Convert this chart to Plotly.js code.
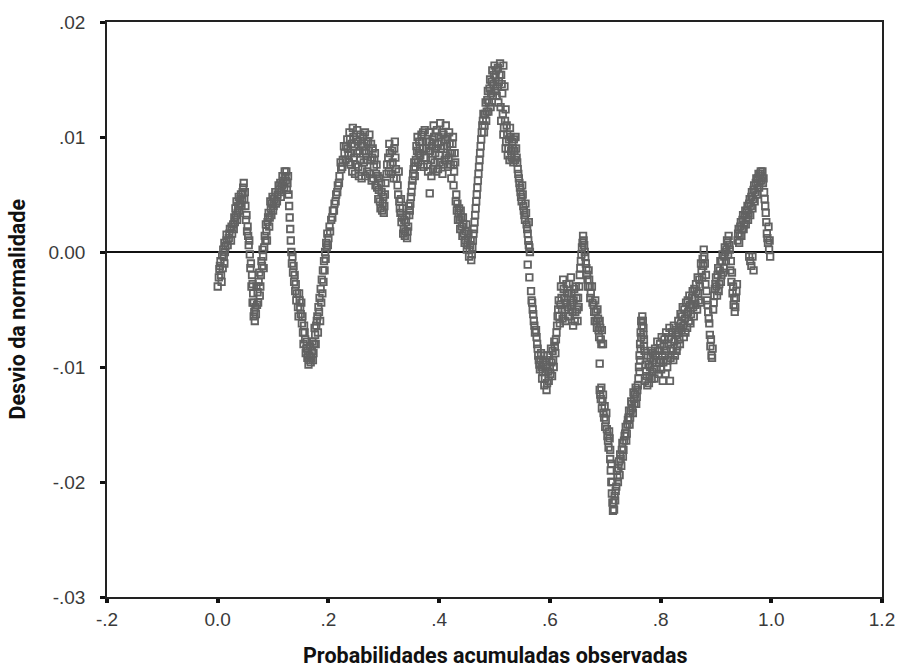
<!DOCTYPE html>
<html><head><meta charset="utf-8">
<script src="https://cdn.plot.ly/plotly-3.0.1.min.js"></script>
<style>html,body{margin:0;padding:0;background:#fff}#chart{width:897px;height:667px}</style>
</head><body><div id="chart"></div>
<script>
// [observed cumulative probability, deviation from normality]
const segA = [[0.000,-.0030],[0.002,-.0022],[0.003,-.0015],[0.005,-.0008],[0.006,-.0020],[0.008,-.0003],[0.010,.0002],[0.012,-.0010],[0.014,.0005],[0.016,.0010],[0.012,.0008],[0.016,.0015],[0.020,.0012],[0.022,.0020],[0.026,.0016],[0.028,.0024],[0.030,.0030],[0.032,.0038],[0.034,.0044],[0.036,.0034],[0.038,.0048],[0.040,.0042],[0.042,.0050],[0.044,.0046],[0.046,.0056],[0.047,.0060],[0.049,.0052],[0.050,.0040],[0.052,.0032],[0.054,.0022],[0.055,.0014],[0.056,.0006],[0.058,-.0002],[0.060,-.0010],[0.062,-.0020],[0.063,-.0028],[0.064,-.0036],[0.065,-.0044],[0.066,-.0052],[0.067,-.0060],[0.069,-.0054],[0.071,-.0046],[0.072,-.0035],[0.074,-.0026],[0.076,-.0038],[0.078,-.0020],[0.080,-.0012],[0.082,-.0004],[0.084,.0004],[0.086,.0010],[0.088,.0018],[0.090,.0026],[0.092,.0034],[0.094,.0030],[0.096,.0038],[0.098,.0042],[0.100,.0036],[0.102,.0046],[0.105,.0042],[0.108,.0050],[0.111,.0054],[0.114,.0048],[0.116,.0058],[0.118,.0062],[0.120,.0056],[0.122,.0066],[0.124,.0070],[0.126,.0060],[0.128,.0050],[0.129,.0040],[0.130,.0030],[0.131,.0020],[0.132,.0010]];
const fillA = [[0.004,-.0012],[0.007,-.0026],[0.009,-.0014],[0.011,-.0004],[0.013,.0000],[0.018,.0006],[0.021,.0016],[0.024,.0010],[0.025,.0022],[0.029,.0020],[0.031,.0026],[0.033,.0032],[0.035,.0028],[0.037,.0040],[0.039,.0036],[0.041,.0046],[0.043,.0040],[0.045,.0052],[0.048,.0046],[0.051,.0028],[0.053,.0018],[0.057,.0010],[0.059,-.0014],[0.061,-.0030],[0.063,-.0044],[0.065,-.0056],[0.068,-.0048],[0.070,-.0030],[0.073,-.0044],[0.075,-.0018],[0.077,-.0030],[0.079,-.0008],[0.081,.0002],[0.083,-.0014],[0.085,.0014],[0.087,.0024],[0.089,.0010],[0.091,.0030],[0.093,.0022],[0.095,.0044],[0.097,.0032],[0.099,.0048],[0.101,.0040],[0.104,.0052],[0.107,.0044],[0.110,.0058],[0.113,.0060],[0.115,.0052],[0.117,.0066],[0.119,.0060],[0.121,.0070],[0.123,.0062],[0.125,.0054],[0.127,.0066]];
const segB = [[0.133,.0000],[0.134,-.0010],[0.136,-.0018],[0.138,-.0026],[0.140,-.0034],[0.142,-.0042],[0.145,-.0048],[0.148,-.0042],[0.150,-.0054],[0.152,-.0062],[0.154,-.0070],[0.156,-.0064],[0.158,-.0076],[0.160,-.0084],[0.162,-.0092],[0.164,-.0098],[0.166,-.0090],[0.168,-.0096],[0.170,-.0086],[0.172,-.0094],[0.174,-.0080],[0.176,-.0072],[0.178,-.0064],[0.180,-.0056],[0.182,-.0048],[0.184,-.0040],[0.186,-.0032],[0.188,-.0024],[0.190,-.0016],[0.192,-.0008],[0.194,.0000],[0.196,.0008],[0.198,.0016],[0.200,.0012],[0.202,.0022],[0.205,.0028],[0.208,.0036],[0.211,.0042],[0.214,.0050],[0.217,.0058],[0.220,.0066],[0.223,.0072],[0.226,.0080],[0.229,.0086],[0.232,.0092]];
const fillB = [[0.135,-.0004],[0.137,-.0012],[0.139,-.0020],[0.141,-.0028],[0.143,-.0036],[0.146,-.0056],[0.147,-.0036],[0.149,-.0048],[0.151,-.0044],[0.153,-.0056],[0.155,-.0080],[0.157,-.0070],[0.159,-.0088],[0.161,-.0078],[0.163,-.0086],[0.165,-.0094],[0.167,-.0082],[0.169,-.0092],[0.171,-.0078],[0.173,-.0088],[0.175,-.0066],[0.177,-.0080],[0.179,-.0060],[0.181,-.0070],[0.183,-.0052],[0.185,-.0060],[0.187,-.0044],[0.189,-.0036],[0.191,-.0026],[0.193,-.0016],[0.195,-.0006],[0.197,.0004],[0.199,.0006],[0.203,.0018],[0.207,.0030],[0.210,.0036],[0.213,.0044],[0.216,.0052],[0.219,.0060],[0.222,.0078],[0.225,.0074],[0.228,.0092],[0.231,.0080]];
const segC = [[0.234,.0098],[0.236,.0084],[0.238,.0104],[0.240,.0076],[0.242,.0094],[0.244,.0108],[0.246,.0082],[0.248,.0068],[0.250,.0098],[0.252,.0106],[0.254,.0074],[0.256,.0088],[0.258,.0102],[0.260,.0064],[0.262,.0092],[0.264,.0078],[0.266,.0104],[0.268,.0086],[0.270,.0070],[0.272,.0096],[0.274,.0102],[0.276,.0080],[0.278,.0062],[0.280,.0090],[0.282,.0074],[0.284,.0086],[0.286,.0068],[0.288,.0056],[0.290,.0046],[0.292,.0064],[0.294,.0038],[0.296,.0052],[0.298,.0042],[0.300,.0034],[0.302,.0050],[0.305,.0068],[0.308,.0082],[0.310,.0094],[0.312,.0076],[0.315,.0088],[0.318,.0064],[0.320,.0096],[0.322,.0072],[0.325,.0058],[0.328,.0044],[0.330,.0034],[0.332,.0026],[0.334,.0038],[0.336,.0020],[0.338,.0014],[0.340,.0026],[0.342,.0012],[0.344,.0022],[0.346,.0032],[0.348,.0042],[0.350,.0052],[0.352,.0062],[0.354,.0072],[0.356,.0066],[0.358,.0080],[0.360,.0088],[0.362,.0078],[0.364,.0096],[0.366,.0084],[0.368,.0102],[0.370,.0090],[0.372,.0074],[0.374,.0106]];
const fillC = [[0.235,.0090],[0.237,.0078],[0.239,.0098],[0.241,.0086],[0.243,.0070],[0.245,.0100],[0.247,.0092],[0.249,.0076],[0.251,.0086],[0.253,.0096],[0.255,.0066],[0.257,.0080],[0.259,.0094],[0.261,.0072],[0.263,.0100],[0.265,.0088],[0.267,.0066],[0.269,.0096],[0.271,.0080],[0.273,.0088],[0.275,.0068],[0.277,.0094],[0.279,.0082],[0.281,.0064],[0.283,.0080],[0.285,.0058],[0.287,.0076],[0.289,.0066],[0.291,.0054],[0.293,.0044],[0.295,.0060],[0.297,.0036],[0.299,.0048],[0.301,.0040],[0.303,.0060],[0.306,.0076],[0.309,.0070],[0.311,.0086],[0.313,.0068],[0.316,.0078],[0.319,.0090],[0.321,.0082],[0.323,.0064],[0.326,.0050],[0.327,.0070],[0.329,.0038],[0.331,.0046],[0.333,.0030],[0.335,.0016],[0.337,.0028],[0.339,.0018],[0.341,.0032],[0.343,.0018],[0.345,.0040],[0.347,.0036],[0.349,.0048],[0.351,.0058],[0.353,.0068],[0.355,.0078],[0.357,.0074],[0.359,.0092],[0.361,.0100],[0.363,.0086],[0.365,.0090],[0.367,.0076],[0.369,.0096],[0.371,.0104],[0.373,.0082]];
const segD = [[0.376,.0082],[0.378,.0096],[0.380,.0070],[0.382,.0104],[0.384,.0088],[0.386,.0066],[0.388,.0098],[0.390,.0110],[0.392,.0078],[0.394,.0090],[0.396,.0106],[0.398,.0072],[0.400,.0084],[0.402,.0112],[0.404,.0096],[0.406,.0068],[0.408,.0102],[0.410,.0080],[0.412,.0110],[0.414,.0092],[0.416,.0074],[0.418,.0104],[0.420,.0086],[0.422,.0064],[0.424,.0094],[0.426,.0076],[0.428,.0086],[0.383,.0051],[0.426,.0058],[0.430,.0044],[0.432,.0036],[0.434,.0028],[0.436,.0038],[0.438,.0020],[0.440,.0030],[0.442,.0014],[0.444,.0024],[0.446,.0008],[0.448,.0018],[0.450,.0002],[0.452,.0012],[0.454,-.0004],[0.456,.0006],[0.458,-.0007],[0.460,.0004],[0.462,.0016],[0.464,.0026],[0.466,.0038],[0.468,.0050],[0.470,.0062],[0.472,.0074],[0.474,.0086],[0.476,.0098],[0.478,.0110],[0.480,.0120],[0.482,.0110],[0.484,.0130],[0.486,.0122],[0.488,.0140],[0.490,.0130],[0.492,.0150],[0.494,.0138],[0.496,.0158],[0.498,.0146],[0.500,.0162],[0.502,.0152],[0.504,.0136],[0.506,.0160],[0.508,.0148],[0.510,.0164],[0.512,.0154],[0.514,.0138],[0.516,.0162],[0.518,.0144],[0.520,.0124],[0.512,.0114],[0.516,.0102],[0.520,.0090],[0.522,.0110],[0.524,.0084],[0.526,.0098],[0.528,.0108],[0.530,.0088],[0.532,.0096],[0.534,.0078],[0.536,.0088],[0.538,.0100],[0.540,.0082]];
const fillD = [[0.377,.0090],[0.379,.0076],[0.381,.0088],[0.383,.0096],[0.385,.0080],[0.387,.0092],[0.389,.0072],[0.391,.0100],[0.393,.0086],[0.395,.0070],[0.397,.0094],[0.399,.0100],[0.401,.0078],[0.403,.0090],[0.405,.0104],[0.407,.0076],[0.409,.0092],[0.411,.0098],[0.413,.0084],[0.415,.0100],[0.417,.0082],[0.419,.0094],[0.421,.0076],[0.423,.0086],[0.425,.0100],[0.427,.0070],[0.429,.0078],[0.431,.0050],[0.433,.0042],[0.435,.0034],[0.437,.0028],[0.439,.0036],[0.441,.0022],[0.443,.0030],[0.445,.0016],[0.447,.0010],[0.449,.0024],[0.451,.0006],[0.453,.0016],[0.455,.0002],[0.457,.0010],[0.459,-.0002],[0.461,.0010],[0.463,.0020],[0.465,.0032],[0.467,.0044],[0.469,.0056],[0.471,.0068],[0.473,.0080],[0.475,.0092],[0.477,.0104],[0.479,.0114],[0.481,.0104],[0.483,.0120],[0.485,.0114],[0.487,.0132],[0.489,.0122],[0.491,.0142],[0.493,.0126],[0.495,.0148],[0.497,.0136],[0.499,.0154],[0.501,.0140],[0.503,.0158],[0.505,.0144],[0.507,.0130],[0.509,.0154],[0.511,.0126],[0.513,.0146],[0.515,.0120],[0.517,.0108],[0.519,.0114],[0.521,.0096],[0.523,.0102],[0.525,.0090],[0.527,.0080],[0.529,.0100],[0.531,.0082],[0.533,.0090],[0.535,.0098],[0.537,.0080],[0.539,.0090],[0.541,.0078]];
const segE = [[0.542,.0072],[0.544,.0064],[0.546,.0056],[0.548,.0048],[0.550,.0058],[0.552,.0040],[0.554,.0032],[0.556,.0042],[0.558,.0024],[0.560,.0016],[0.562,.0006],[0.564,.0000],[0.562,.0026],[0.560,-.0011],[0.563,-.0022],[0.566,-.0034],[0.568,-.0044],[0.570,-.0054],[0.572,-.0064],[0.576,-.0074],[0.578,-.0084],[0.580,-.0094],[0.582,-.0102],[0.584,-.0088],[0.586,-.0110],[0.588,-.0096],[0.590,-.0116],[0.592,-.0104],[0.594,-.0120],[0.596,-.0090],[0.598,-.0112],[0.600,-.0100],[0.602,-.0084],[0.604,-.0108],[0.606,-.0094],[0.608,-.0078],[0.610,-.0088],[0.612,-.0070],[0.614,-.0056],[0.616,-.0042],[0.618,-.0062],[0.620,-.0030],[0.622,-.0050],[0.624,-.0024],[0.626,-.0040],[0.628,-.0060],[0.630,-.0028],[0.632,-.0048],[0.634,-.0036],[0.636,-.0056],[0.638,-.0022],[0.640,-.0044],[0.642,-.0064],[0.644,-.0032],[0.646,-.0052],[0.648,-.0040],[0.650,-.0060],[0.652,-.0048],[0.654,-.0020],[0.656,-.0008],[0.658,.0004],[0.660,.0014],[0.662,.0006],[0.664,-.0004],[0.666,-.0014],[0.668,-.0024],[0.670,-.0016],[0.672,-.0030],[0.674,-.0036],[0.677,-.0044],[0.680,-.0052],[0.682,-.0042],[0.684,-.0060],[0.686,-.0050],[0.688,-.0068],[0.690,-.0060],[0.692,-.0076],[0.694,-.0068],[0.696,-.0080],[0.690,-.0097]];
const fillE = [[0.543,.0068],[0.545,.0060],[0.547,.0052],[0.549,.0044],[0.551,.0050],[0.553,.0036],[0.555,.0028],[0.557,.0034],[0.559,.0020],[0.561,.0010],[0.563,.0004],[0.567,-.0042],[0.569,-.0050],[0.571,-.0060],[0.573,-.0070],[0.575,-.0068],[0.577,-.0080],[0.579,-.0090],[0.581,-.0098],[0.583,-.0094],[0.585,-.0100],[0.587,-.0104],[0.589,-.0090],[0.591,-.0110],[0.593,-.0098],[0.595,-.0114],[0.597,-.0104],[0.599,-.0094],[0.601,-.0106],[0.603,-.0096],[0.605,-.0086],[0.607,-.0100],[0.609,-.0082],[0.611,-.0076],[0.613,-.0064],[0.615,-.0050],[0.617,-.0056],[0.619,-.0046],[0.621,-.0040],[0.623,-.0058],[0.625,-.0032],[0.627,-.0050],[0.629,-.0044],[0.631,-.0036],[0.633,-.0056],[0.635,-.0028],[0.637,-.0046],[0.639,-.0036],[0.641,-.0052],[0.643,-.0042],[0.645,-.0060],[0.647,-.0030],[0.649,-.0050],[0.651,-.0040],[0.653,-.0030],[0.655,-.0014],[0.657,-.0002],[0.659,.0008],[0.661,.0010],[0.663,.0000],[0.665,-.0010],[0.667,-.0020],[0.669,-.0030],[0.671,-.0024],[0.673,-.0040],[0.676,-.0030],[0.679,-.0046],[0.681,-.0060],[0.683,-.0052],[0.685,-.0066],[0.687,-.0058],[0.689,-.0074],[0.691,-.0066],[0.693,-.0080]];
const segF = [[0.690,-.0120],[0.692,-.0128],[0.694,-.0136],[0.696,-.0124],[0.698,-.0144],[0.700,-.0152],[0.702,-.0140],[0.704,-.0160],[0.706,-.0170],[0.708,-.0162],[0.709,-.0180],[0.710,-.0190],[0.711,-.0200],[0.712,-.0210],[0.713,-.0218],[0.714,-.0225],[0.716,-.0224],[0.718,-.0216],[0.720,-.0204],[0.722,-.0196],[0.724,-.0188],[0.726,-.0194],[0.728,-.0180],[0.730,-.0172],[0.732,-.0178],[0.734,-.0164],[0.736,-.0158],[0.738,-.0164],[0.740,-.0150],[0.742,-.0144],[0.744,-.0150],[0.746,-.0138],[0.748,-.0132],[0.750,-.0140],[0.752,-.0128],[0.754,-.0124],[0.756,-.0132],[0.758,-.0120],[0.760,-.0110],[0.761,-.0100],[0.762,-.0090],[0.763,-.0080],[0.764,-.0070],[0.765,-.0060],[0.767,-.0056],[0.769,-.0066],[0.770,-.0076],[0.771,-.0086]];
const fillF = [[0.691,-.0124],[0.693,-.0118],[0.695,-.0130],[0.697,-.0140],[0.699,-.0134],[0.701,-.0146],[0.703,-.0154],[0.705,-.0164],[0.707,-.0156],[0.709,-.0172],[0.711,-.0184],[0.713,-.0200],[0.715,-.0218],[0.717,-.0212],[0.719,-.0208],[0.721,-.0190],[0.723,-.0200],[0.725,-.0182],[0.727,-.0176],[0.729,-.0186],[0.731,-.0166],[0.733,-.0172],[0.735,-.0160],[0.737,-.0152],[0.739,-.0158],[0.741,-.0146],[0.743,-.0138],[0.745,-.0144],[0.747,-.0130],[0.749,-.0136],[0.751,-.0122],[0.753,-.0132],[0.755,-.0118],[0.757,-.0126],[0.759,-.0116],[0.762,-.0104],[0.763,-.0094],[0.764,-.0084],[0.765,-.0074],[0.766,-.0064],[0.768,-.0060],[0.769,-.0072],[0.770,-.0082]];
const segG = [[0.772,-.0112],[0.774,-.0104],[0.776,-.0116],[0.778,-.0098],[0.780,-.0108],[0.782,-.0092],[0.784,-.0110],[0.786,-.0088],[0.788,-.0102],[0.790,-.0084],[0.792,-.0096],[0.794,-.0078],[0.796,-.0106],[0.798,-.0086],[0.800,-.0094],[0.802,-.0074],[0.804,-.0112],[0.806,-.0082],[0.808,-.0090],[0.810,-.0070],[0.812,-.0100],[0.814,-.0080],[0.816,-.0066],[0.818,-.0092],[0.820,-.0076],[0.822,-.0086],[0.824,-.0064],[0.826,-.0090],[0.828,-.0072],[0.830,-.0082],[0.832,-.0060],[0.834,-.0076],[0.836,-.0054],[0.838,-.0068],[0.840,-.0048],[0.842,-.0074],[0.844,-.0058],[0.846,-.0044],[0.848,-.0066],[0.850,-.0052],[0.852,-.0038],[0.854,-.0062],[0.856,-.0046],[0.858,-.0034],[0.860,-.0056],[0.862,-.0040],[0.864,-.0028],[0.866,-.0050],[0.868,-.0036],[0.870,-.0024],[0.872,-.0044],[0.874,-.0016],[0.876,-.0006],[0.878,.0002],[0.880,-.0010],[0.882,-.0020],[0.884,-.0042],[0.886,-.0052],[0.888,-.0062],[0.889,-.0072],[0.890,-.0082],[0.892,-.0090],[0.894,-.0084],[0.896,-.0044],[0.898,-.0032],[0.900,-.0022],[0.902,-.0038],[0.904,-.0014],[0.906,-.0028],[0.908,-.0008],[0.910,-.0020],[0.912,-.0002],[0.914,-.0014],[0.916,.0004],[0.918,-.0008],[0.920,.0010],[0.922,-.0002],[0.924,.0006],[0.926,-.0016],[0.928,-.0026],[0.930,-.0036],[0.932,-.0046],[0.934,-.0052],[0.936,-.0040],[0.938,-.0028],[0.940,.0016],[0.942,.0008],[0.944,.0022],[0.946,.0014],[0.948,.0028],[0.950,.0020],[0.952,.0032],[0.954,.0024],[0.956,.0036],[0.958,.0028],[0.960,.0042],[0.962,.0032],[0.964,.0048],[0.966,.0038],[0.968,.0054],[0.970,.0044],[0.972,.0060],[0.974,.0050],[0.976,.0064],[0.978,.0056],[0.980,.0068],[0.982,.0062],[0.984,.0070],[0.986,.0064],[0.988,.0046],[0.990,.0034],[0.992,.0016],[0.994,.0008],[0.996,.0002],[0.998,-.0004],[0.960,-.0004],[0.964,-.0012],[0.968,-.0016]];
const fillG = [[0.773,-.0098],[0.775,-.0108],[0.777,-.0090],[0.779,-.0114],[0.781,-.0100],[0.783,-.0086],[0.785,-.0104],[0.787,-.0094],[0.789,-.0110],[0.791,-.0090],[0.793,-.0102],[0.795,-.0086],[0.797,-.0096],[0.799,-.0080],[0.801,-.0102],[0.803,-.0090],[0.805,-.0096],[0.807,-.0076],[0.809,-.0106],[0.811,-.0086],[0.813,-.0094],[0.815,-.0074],[0.817,-.0112],[0.819,-.0084],[0.821,-.0070],[0.823,-.0094],[0.825,-.0078],[0.827,-.0068],[0.829,-.0086],[0.831,-.0070],[0.833,-.0066],[0.835,-.0080],[0.837,-.0062],[0.839,-.0056],[0.841,-.0064],[0.843,-.0050],[0.845,-.0070],[0.847,-.0054],[0.849,-.0042],[0.851,-.0060],[0.853,-.0046],[0.855,-.0054],[0.857,-.0040],[0.859,-.0048],[0.861,-.0032],[0.863,-.0046],[0.865,-.0034],[0.867,-.0022],[0.869,-.0042],[0.871,-.0030],[0.873,-.0010],[0.875,-.0022],[0.877,-.0012],[0.879,-.0004],[0.881,-.0028],[0.883,-.0034],[0.885,-.0046],[0.887,-.0058],[0.891,-.0076],[0.893,-.0092],[0.895,-.0050],[0.897,-.0038],[0.899,-.0028],[0.901,-.0030],[0.903,-.0020],[0.905,-.0034],[0.907,-.0016],[0.909,-.0026],[0.911,-.0008],[0.913,-.0018],[0.915,-.0004],[0.917,.0000],[0.919,.0002],[0.921,.0008],[0.923,.0014],[0.925,.0002],[0.927,-.0008],[0.929,-.0018],[0.931,-.0030],[0.933,-.0040],[0.935,-.0048],[0.937,-.0034],[0.939,.0010],[0.941,.0020],[0.943,.0014],[0.945,.0026],[0.947,.0020],[0.949,.0032],[0.951,.0024],[0.953,.0036],[0.955,.0030],[0.957,.0040],[0.959,.0034],[0.961,.0046],[0.963,.0040],[0.965,.0052],[0.967,.0046],[0.969,.0058],[0.971,.0052],[0.973,.0064],[0.975,.0058],[0.977,.0068],[0.979,.0062],[0.981,.0070],[0.983,.0066],[0.985,.0060],[0.987,.0052],[0.989,.0040],[0.991,.0026],[0.993,.0012],[0.995,.0022],[0.997,.0010],[0.962,-.0008],[0.966,-.0004]];

const xTickVals = [-0.2, 0, 0.2, 0.4, 0.6, 0.8, 1.0, 1.2];
const xTickText = ['-.2', '0.0', '.2', '.4', '.6', '.8', '1.0', '1.2'];
const yTickVals = [-0.03, -0.02, -0.01, 0, 0.01, 0.02];
const yTickText = ['-.03', '-.02', '-.01', '0.00', '.01', '.02'];
const xTitle = 'Probabilidades acumuladas observadas';
const yTitle = 'Desvio da normalidade';

const pts = [].concat(segA, fillA, segB, fillB, segC, fillC, segD, fillD, segE, fillE, segF, fillF, segG, fillG);
const trace = {
  type: 'scatter', mode: 'markers',
  x: pts.map(p => p[0]), y: pts.map(p => p[1]),
  marker: {symbol: 'square-open', size: 6.5, color: '#626262', line: {width: 1.8}},
  hoverinfo: 'skip', showlegend: false
};
const tickFont = {family: 'Liberation Sans, Arial, sans-serif', size: 19, color: '#3a3a3a'};
const titleFont = {family: 'Roboto, Liberation Sans, sans-serif', size: 21.5, color: '#111', weight: 'bold'};
const layout = {
  width: 897, height: 667,
  margin: {l: 107, r: 15, t: 22, b: 70},
  paper_bgcolor: '#fff', plot_bgcolor: '#fff',
  xaxis: {range: [-0.2, 1.2], tickvals: xTickVals, ticktext: xTickText, ticks: 'outside', ticklen: 4, tickwidth: 4, tickcolor: '#111',
    showgrid: false, zeroline: false, showline: true, linecolor: '#222', linewidth: 1.8, mirror: true, tickfont: tickFont, fixedrange: true},
  yaxis: {range: [-0.03, 0.02], tickvals: yTickVals, ticktext: yTickText, ticks: 'outside', ticklen: 5, tickwidth: 3, tickcolor: '#111',
    ticklabelstandoff: 11,
    showgrid: false, zeroline: true, zerolinecolor: '#111', zerolinewidth: 1.5, showline: true, linecolor: '#222', linewidth: 1.8, mirror: true, tickfont: tickFont, fixedrange: true},
  annotations: [
    {text: xTitle, xref: 'paper', yref: 'paper', x: 0.5, y: 0, yshift: -58, xanchor: 'center', yanchor: 'middle', showarrow: false, font: titleFont},
    {text: yTitle, xref: 'paper', yref: 'paper', x: 0, y: 0.5, xshift: -90, xanchor: 'center', yanchor: 'middle', textangle: -90, showarrow: false, font: titleFont}
  ]
};
Plotly.newPlot('chart', [trace], layout, {displayModeBar: false, staticPlot: true});
</script>
</body></html>
